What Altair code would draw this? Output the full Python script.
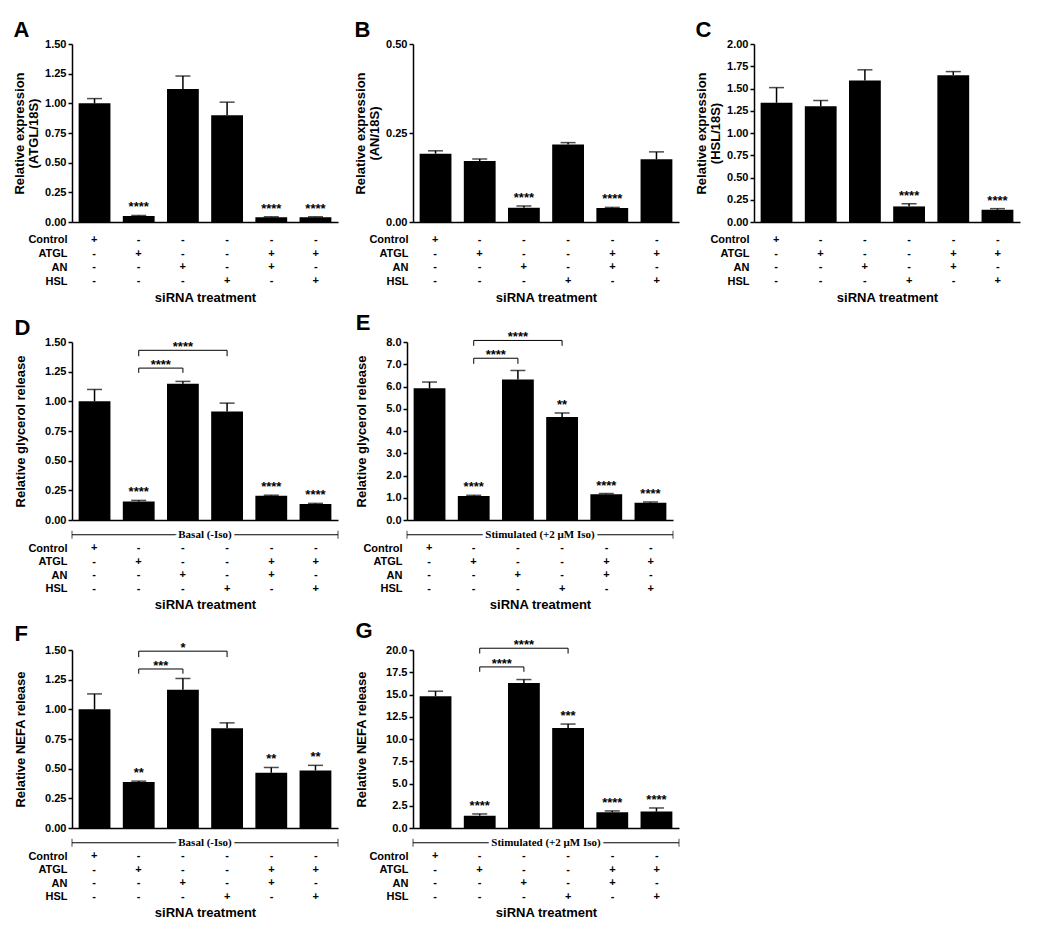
import altair as alt
import pandas as pd

FONT = "Liberation Sans"
SERIF = "Liberation Serif"

# ---------------- data ----------------
BARS = ["b1", "b2", "b3", "b4", "b5", "b6"]
ROW_NAMES = ["Control", "ATGL", "AN", "HSL"]
SIGN_CONTROL = ["+", "-", "-", "-", "-", "-"]
SIGN_ATGL = ["-", "+", "-", "-", "+", "+"]
SIGN_AN = ["-", "-", "+", "-", "+", "-"]
SIGN_HSL = ["-", "-", "-", "+", "-", "+"]
X_TITLE = "siRNA treatment"

A_MEAN = [1.00, 0.05, 1.12, 0.90, 0.04, 0.04]
A_SEM = [0.04, 0.005, 0.11, 0.11, 0.004, 0.004]
A_STARS = ["", "****", "", "", "****", "****"]

B_MEAN = [0.192, 0.171, 0.040, 0.218, 0.039, 0.176]
B_SEM = [0.008, 0.006, 0.005, 0.005, 0.002, 0.021]
B_STARS = ["", "", "****", "", "****", ""]

C_MEAN = [1.34, 1.30, 1.59, 0.175, 1.65, 0.138]
C_SEM = [0.17, 0.065, 0.12, 0.03, 0.04, 0.012]
C_STARS = ["", "", "", "****", "", "****"]

D_MEAN = [1.00, 0.155, 1.148, 0.915, 0.205, 0.135]
D_SEM = [0.10, 0.01, 0.02, 0.07, 0.004, 0.005]
D_STARS = ["", "****", "", "", "****", "****"]

E_MEAN = [5.92, 1.08, 6.31, 4.63, 1.16, 0.78]
E_SEM = [0.28, 0.03, 0.41, 0.18, 0.03, 0.03]
E_STARS = ["", "****", "", "**", "****", "****"]

F_MEAN = [1.00, 0.387, 1.165, 0.84, 0.465, 0.485]
F_SEM = [0.13, 0.008, 0.095, 0.046, 0.045, 0.043]
F_STARS = ["", "**", "", "", "**", "**"]

G_MEAN = [14.8, 1.39, 16.3, 11.23, 1.76, 1.84]
G_SEM = [0.57, 0.19, 0.38, 0.45, 0.16, 0.41]
G_STARS = ["", "****", "", "***", "****", "****"]

BRACKET_FROM = ["b2", "b2"]
BRACKET_TO = ["b3", "b4"]
D_BR_LEVEL = [1.28, 1.43]
D_BR_DROP = [1.24, 1.38]
D_BR_TEXT = ["****", "****"]
E_BR_LEVEL = [7.27, 8.07]
E_BR_DROP = [7.02, 7.83]
E_BR_TEXT = ["****", "****"]
F_BR_LEVEL = [1.34, 1.49]
F_BR_DROP = [1.30, 1.44]
F_BR_TEXT = ["***", "*"]
G_BR_LEVEL = [18.1, 20.2]
G_BR_DROP = [17.55, 19.6]
G_BR_TEXT = ["****", "****"]

BASAL = "Basal (-Iso)"
STIM = "Stimulated  (+2  \u03bcM Iso)"

# ---------------- layout ----------------
W, H = 266, 178
P_IN, P_OUT = 0.28, 0.15
STEP = W / (len(BARS) - P_IN + 2 * P_OUT)


def xscale():
    return alt.Scale(domain=BARS, paddingInner=P_IN, paddingOuter=P_OUT)


def panel(letter, mean, sem, stars, ytitle, ymax, yticks, fmt,
          br_level=None, br_drop=None, br_text=None, band_label=None):
    df = pd.DataFrame({"bar": BARS, "mean": mean,
                       "top": [m + s for m, s in zip(mean, sem)],
                       "star": stars})
    two_line = isinstance(ytitle, list)
    yaxis = alt.Axis(title=ytitle, values=yticks, format=fmt,
                     titlePadding=4 if two_line else 17, labelPadding=2)
    ysc = alt.Scale(domain=[0, ymax], nice=False, zero=True)
    xenc = alt.X("bar:N", sort=BARS, scale=xscale(),
                 axis=alt.Axis(labels=False, ticks=False, title=None, domain=True))
    base = alt.Chart(df)
    layers = [
        base.mark_bar(color="black").encode(
            x=xenc, y=alt.Y("mean:Q", scale=ysc, axis=yaxis)),
        base.mark_rule(color="black", strokeWidth=1.5).encode(
            x=xenc, y=alt.Y("mean:Q", scale=ysc, axis=yaxis), y2="top:Q"),
        base.mark_tick(color="black", size=15, thickness=1.5).encode(
            x=xenc, y=alt.Y("top:Q", scale=ysc, axis=yaxis)),
        base.transform_filter("datum.star != ''").mark_text(
            font=FONT, fontWeight="bold", fontSize=13, baseline="alphabetic",
            dy=-4, color="black").encode(
            x=xenc, y=alt.Y("top:Q", scale=ysc, axis=yaxis), text="star:N"),
    ]
    if br_level is not None:
        hdf = pd.DataFrame({"bar": BRACKET_FROM, "to": BRACKET_TO,
                            "level": br_level})
        layers.append(alt.Chart(hdf).mark_rule(color="black", strokeWidth=1).encode(
            x=xenc, x2="to:N", y=alt.Y("level:Q", scale=ysc, axis=yaxis)))
        vdf = pd.DataFrame({
            "bar": BRACKET_FROM + BRACKET_TO,
            "level": br_level + br_level,
            "drop": br_drop + br_drop})
        layers.append(alt.Chart(vdf).mark_rule(color="black", strokeWidth=1).encode(
            x=xenc, y=alt.Y("level:Q", scale=ysc, axis=yaxis), y2="drop:Q"))
        for f, t, lv, tx in zip(BRACKET_FROM, BRACKET_TO, br_level, br_text):
            span = BARS.index(t) - BARS.index(f)
            ldf = pd.DataFrame({"bar": [f], "level": [lv], "label": [tx]})
            layers.append(alt.Chart(ldf).mark_text(
                font=FONT, fontWeight="bold", fontSize=13, baseline="alphabetic",
                dx=STEP * span / 2, dy=1, color="black").encode(
                x=xenc, y=alt.Y("level:Q", scale=ysc, axis=yaxis), text="label:N"))
    bars_chart = alt.layer(*layers).properties(width=W, height=H)

    # ---- treatment table ----
    rows = ([" "] if band_label else []) + ROW_NAMES
    sign_lists = [SIGN_CONTROL, SIGN_ATGL, SIGN_AN, SIGN_HSL]
    tdf = pd.DataFrame([{"bar": b, "row": r, "sign": s[i]}
                        for r, s in zip(ROW_NAMES, sign_lists)
                        for i, b in enumerate(BARS)])
    yrow = alt.Y("row:N", sort=rows,
                 scale=alt.Scale(domain=rows, type="point", padding=0.5),
                 axis=alt.Axis(title=None, ticks=False, domain=False,
                               labelPadding=5, labelFontSize=11))
    tlayers = [alt.Chart(tdf).mark_text(
        font=FONT, fontWeight="bold", fontSize=11, color="black").encode(
        x=alt.X("bar:N", sort=BARS, scale=xscale(),
                axis=alt.Axis(labels=False, ticks=False, domain=False,
                              title=X_TITLE, titlePadding=3)),
        y=yrow, text="sign:N")]
    theight = 13.5 * len(rows) if band_label else 55
    if band_label:
        qs = alt.Scale(domain=[0, 1], nice=False, zero=False)
        ldf = pd.DataFrame({"x0": [0.0], "x1": [1.0], "row": [" "],
                            "xm": [0.5], "label": [band_label]})
        edf = pd.DataFrame({"x": [0.0, 1.0], "row": [" ", " "]})
        tlayers.append(alt.Chart(ldf).mark_rule(color="black", strokeWidth=1).encode(
            x=alt.X("x0:Q", scale=qs, axis=None), x2="x1:Q", y=yrow))
        tlayers.append(alt.Chart(edf).mark_tick(color="black", size=8, thickness=1).encode(
            x=alt.X("x:Q", scale=qs, axis=None), y=yrow))
        tlayers.append(alt.Chart(ldf).mark_text(
            font=SERIF, fontWeight="bold", fontSize=11, color="white",
            stroke="white", strokeWidth=6).encode(
            x=alt.X("xm:Q", scale=qs, axis=None), y=yrow, text="label:N"))
        tlayers.append(alt.Chart(ldf).mark_text(
            font=SERIF, fontWeight="bold", fontSize=11, color="black").encode(
            x=alt.X("xm:Q", scale=qs, axis=None), y=yrow, text="label:N"))
    table = alt.layer(*tlayers).resolve_scale(x="independent").properties(
        width=W, height=theight)

    return alt.vconcat(bars_chart, table, spacing=3 if band_label else 6).properties(
        title=alt.TitleParams(letter, anchor="start", fontSize=22, fontWeight="bold",
                              font=FONT, color="black", offset=-4))


T15 = [0, 0.25, 0.5, 0.75, 1.0, 1.25, 1.5]
A = panel("A", A_MEAN, A_SEM, A_STARS, ["Relative expression", "(ATGL/18S)"],
          1.5, T15, ".2f")
B = panel("B", B_MEAN, B_SEM, B_STARS, ["Relative expression", "(AN/18S)"],
          0.5, [0, 0.25, 0.5], ".2f")
C = panel("C", C_MEAN, C_SEM, C_STARS, ["Relative expression", "(HSL/18S)"],
          2.0, [0, 0.25, 0.5, 0.75, 1.0, 1.25, 1.5, 1.75, 2.0], ".2f")
D = panel("D", D_MEAN, D_SEM, D_STARS, "Relative glycerol release", 1.5, T15, ".2f",
          D_BR_LEVEL, D_BR_DROP, D_BR_TEXT, BASAL)
E = panel("E", E_MEAN, E_SEM, E_STARS, "Relative glycerol release", 8.0,
          [0, 1, 2, 3, 4, 5, 6, 7, 8], ".1f",
          E_BR_LEVEL, E_BR_DROP, E_BR_TEXT, STIM)
F = panel("F", F_MEAN, F_SEM, F_STARS, "Relative NEFA release", 1.5, T15, ".2f",
          F_BR_LEVEL, F_BR_DROP, F_BR_TEXT, BASAL)
G = panel("G", G_MEAN, G_SEM, G_STARS, "Relative NEFA release", 20.0,
          [0, 2.5, 5, 7.5, 10, 12.5, 15, 17.5, 20], ".1f",
          G_BR_LEVEL, G_BR_DROP, G_BR_TEXT, STIM)

row1 = alt.hconcat(A, B, C, spacing=16)
row2 = alt.hconcat(D, E, spacing=16)
row3 = alt.hconcat(F, G, spacing=16)

chart = alt.vconcat(row1, row2, row3, spacing=8).properties(
    padding={"left": 5, "top": 11, "right": 5, "bottom": 5}
).configure_view(
    stroke=None
).configure_axis(
    labelFont=FONT, titleFont=FONT, labelFontWeight="bold", titleFontWeight="bold",
    labelColor="black", titleColor="black", domainColor="black", tickColor="black",
    grid=False, labelFontSize=11, titleFontSize=13, domainWidth=1.5, tickWidth=1.5,
    tickSize=4, titleLineHeight=14
).configure_title(font=FONT, color="black")

chart.save("out.html", embed_options={"renderer": "svg", "actions": False})
